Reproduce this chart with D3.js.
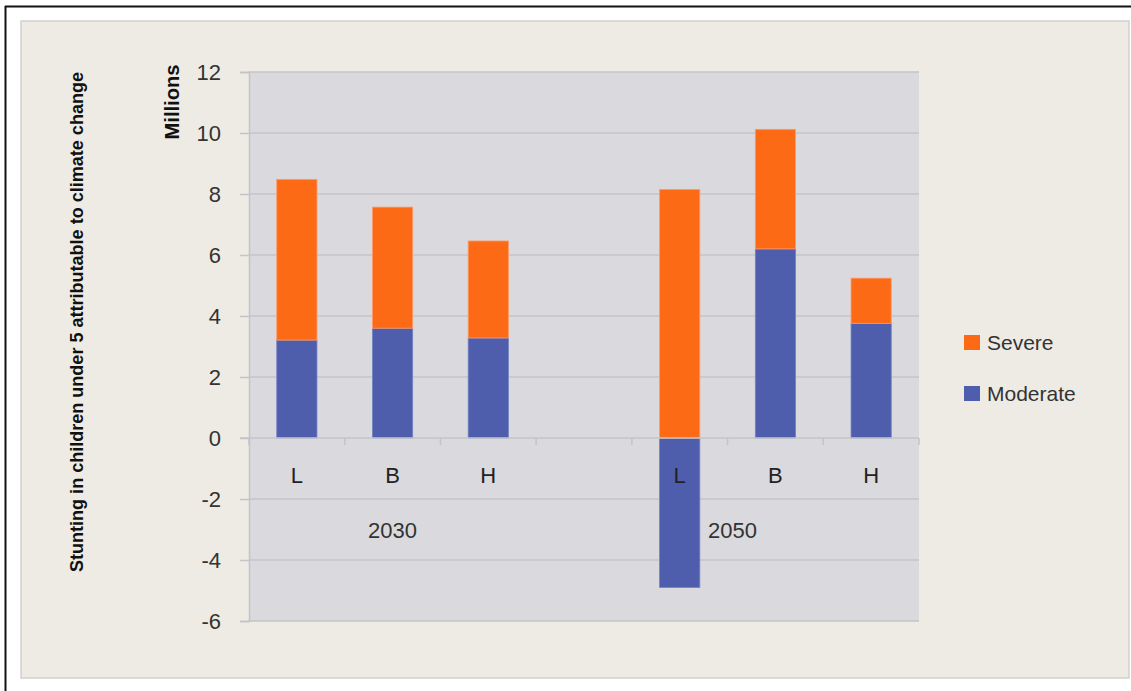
<!DOCTYPE html>
<html>
<head>
<meta charset="utf-8">
<script src="https://cdn.jsdelivr.net/npm/d3@7"></script>
<style>
  html, body { margin: 0; padding: 0; background: #ffffff; }
  svg { display: block; }
  text { font-family: "Liberation Sans", Arial, sans-serif; }
</style>
</head>
<body>
<svg id="chart" width="1131" height="691"></svg>
<script>
// ---- data ----
const categories = ["L", "B", "H", "", "L", "B", "H"];
const groups = ["2030", "2050"];
const groupSpans = [[0, 2], [3, 6]];           // category index ranges per group
const moderate = [3.21, 3.6, 3.28, null, -4.9, 6.2, 3.76];
const severe   = [5.27, 3.97, 3.18, null, 8.15, 3.92, 1.48];
const yTicks = [-6, -4, -2, 0, 2, 4, 6, 8, 10, 12];
const seriesNames = ["Severe", "Moderate"];
const seriesColors = ["#fd6a15", "#4f5eac"];
const yTitle = "Millions";
const sideTitle = "Stunting in children under 5 attributable to climate change";

// ---- layout ----
const svg = d3.select("#chart");
const W = 1131, H = 691;
const plot = { left: 249, right: 919, top: 72, bottom: 621 };

// outer frame
svg.append("line").attr("x1", 5).attr("x2", W).attr("y1", 6.5).attr("y2", 6.5)
  .attr("stroke", "#111").attr("stroke-width", 2);
svg.append("line").attr("x1", 5.5).attr("x2", 5.5).attr("y1", 6).attr("y2", H)
  .attr("stroke", "#111").attr("stroke-width", 2);

// beige panel
svg.append("rect").attr("x", 21).attr("y", 21).attr("width", 1108).attr("height", 657)
  .attr("fill", "#eeebe4").attr("stroke", "#d3d1cc").attr("stroke-width", 1.5);

// plot background
svg.append("rect").attr("x", plot.left).attr("y", plot.top)
  .attr("width", plot.right - plot.left).attr("height", plot.bottom - plot.top)
  .attr("fill", "#d9d9de");

const y = d3.scaleLinear().domain([-6, 12]).range([plot.bottom, plot.top]);
const x = d3.scaleBand().domain(d3.range(categories.length)).range([plot.left, plot.right]).padding(0);
const barW = x.bandwidth() * 0.42;

// gridlines + y labels
const yAxis = d3.axisLeft(y).tickValues(yTicks).tickSize(9).tickFormat(d => String(d));
const gy = svg.append("g").attr("transform", `translate(${plot.left},0)`).call(yAxis);
gy.select(".domain").attr("stroke", "#c3c3c8").attr("stroke-width", 1.5);
gy.selectAll(".tick line").attr("stroke", "#c3c3c8").attr("stroke-width", 1.5);
gy.selectAll(".tick text").attr("x", -28).attr("fill", "#333").attr("font-size", 22)
  .attr("font-family", "Liberation Sans, Arial, sans-serif");
svg.append("g").selectAll("line.grid").data(yTicks.filter(d => d !== 0)).join("line")
  .attr("x1", plot.left).attr("x2", plot.right)
  .attr("y1", d => y(d)).attr("y2", d => y(d))
  .attr("stroke", "#c3c3c8").attr("stroke-width", 1.5);

// bars
const barData = [];
categories.forEach((c, i) => {
  if (moderate[i] === null) return;
  const m = moderate[i], s = severe[i];
  barData.push({ i, y0: 0, y1: m, color: seriesColors[1], stroke: "#7380c4" });
  const base = Math.max(0, m);
  barData.push({ i, y0: base, y1: base + s, color: seriesColors[0], stroke: "#ff9a66" });
});
svg.append("g").selectAll("rect").data(barData).join("rect")
  .attr("x", d => x(d.i) + (x.bandwidth() - barW) / 2)
  .attr("width", barW)
  .attr("y", d => y(Math.max(d.y0, d.y1)))
  .attr("height", d => Math.abs(y(d.y0) - y(d.y1)))
  .attr("fill", d => d.color)
  .attr("stroke", d => d.stroke).attr("stroke-width", 0.8);

// zero axis with category ticks
svg.append("line").attr("x1", plot.left - 9).attr("x2", plot.right)
  .attr("y1", y(0)).attr("y2", y(0)).attr("stroke", "#c3c3c8").attr("stroke-width", 1.5);
const boundaries = d3.range(categories.length + 1).map(k => plot.left + k * x.step());
svg.append("g").selectAll("line").data(boundaries).join("line")
  .attr("x1", d => d).attr("x2", d => d)
  .attr("y1", y(0)).attr("y2", y(0) + 7)
  .attr("stroke", "#c3c3c8").attr("stroke-width", 1.5);

// category labels
svg.append("g").selectAll("text").data(categories).join("text")
  .attr("x", (d, i) => x(i) + x.bandwidth() / 2)
  .attr("y", y(0) + 45)
  .attr("text-anchor", "middle").attr("font-size", 22).attr("fill", "#222")
  .text(d => d);

// group labels
svg.append("g").selectAll("text").data(groups).join("text")
  .attr("x", (d, k) => (x(groupSpans[k][0]) + x(groupSpans[k][1]) + x.bandwidth()) / 2 + (k === 1 ? 5 : 0))
  .attr("y", y(0) + 100)
  .attr("text-anchor", "middle").attr("font-size", 22).attr("fill", "#333")
  .text(d => d);

// y title
svg.append("text")
  .attr("transform", `translate(179,102) rotate(-90)`)
  .attr("text-anchor", "middle").attr("font-size", 20).attr("font-weight", "bold").attr("fill", "#111")
  .attr("textLength", 75).attr("lengthAdjust", "spacingAndGlyphs")
  .text(yTitle);

// side title
svg.append("text")
  .attr("transform", `translate(83,322) rotate(-90)`)
  .attr("text-anchor", "middle").attr("font-size", 18).attr("font-weight", "bold").attr("fill", "#111")
  .attr("textLength", 500).attr("lengthAdjust", "spacingAndGlyphs")
  .text(sideTitle);

// legend
const lg = svg.append("g");
seriesNames.forEach((n, k) => {
  const cy = 343 + k * 51;
  lg.append("rect").attr("x", 964).attr("y", cy - 8).attr("width", 16).attr("height", 15)
    .attr("fill", seriesColors[k]);
  lg.append("text").attr("x", 987).attr("y", cy + 7).attr("font-size", 21).attr("fill", "#333").text(n);
});
</script>
</body>
</html>
